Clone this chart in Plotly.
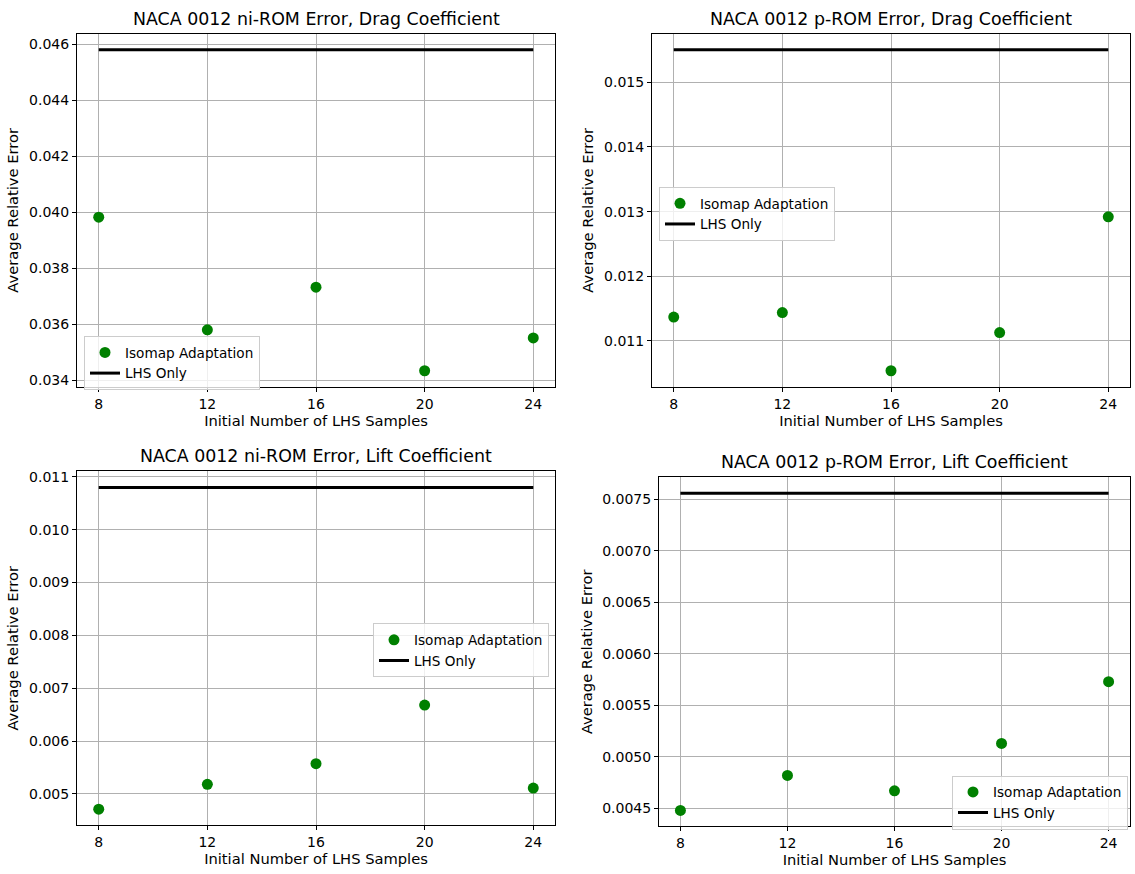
import plotly.graph_objects as go

# Initial number of LHS samples
samples = [8, 12, 16, 20, 24]

# Isomap-adapted ROM average relative errors
iso_ni_drag = [0.03983, 0.03581, 0.03733, 0.03435, 0.03552]
iso_p_drag = [0.01137, 0.01144, 0.01054, 0.01113, 0.01292]
iso_ni_lift = [0.00471, 0.00518, 0.00557, 0.00668, 0.00511]
iso_p_lift = [0.00448, 0.00482, 0.00467, 0.00513, 0.00573]

# LHS-only baseline errors
lhs_ni_drag = 0.04580
lhs_p_drag = 0.01550
lhs_ni_lift = 0.01080
lhs_p_lift = 0.00756

titles = [
    "NACA 0012 ni-ROM Error, Drag Coefficient",
    "NACA 0012 p-ROM Error, Drag Coefficient",
    "NACA 0012 ni-ROM Error, Lift Coefficient",
    "NACA 0012 p-ROM Error, Lift Coefficient",
]

W, H = 1135, 874
FONT = "DejaVu Sans"


def px_x(a, b):
    return [a / W, b / W]


def px_y(top, bottom):
    return [1 - bottom / H, 1 - top / H]


panels = [
    dict(iso=iso_ni_drag, lhs=lhs_ni_drag, xd=px_x(77, 555), yd=px_y(31, 386),
         dtick=0.002, fmt=".3f", leg=(84, 335)),
    dict(iso=iso_p_drag, lhs=lhs_p_drag, xd=px_x(652, 1130), yd=px_y(31, 386),
         dtick=0.001, fmt=".3f", leg=(659, 185)),
    dict(iso=iso_ni_lift, lhs=lhs_ni_lift, xd=px_x(77, 555), yd=px_y(471, 827),
         dtick=0.001, fmt=".3f", leg=(373, 624)),
    dict(iso=iso_p_lift, lhs=lhs_p_lift, xd=px_x(659, 1130), yd=px_y(477, 828),
         dtick=0.0005, fmt=".4f", leg=(952, 777)),
]

fig = go.Figure()
layout = dict(
    width=W, height=H,
    margin=dict(l=0, r=0, t=0, b=0),
    paper_bgcolor="white", plot_bgcolor="white",
    font=dict(family=FONT, size=14, color="black"),
    annotations=[],
)

for i, p in enumerate(panels):
    n = "" if i == 0 else str(i + 1)
    xa, ya = "x" + n, "y" + n
    leg = "legend" + n
    lhs_line = [p["lhs"]] * len(samples)

    fig.add_trace(go.Scatter(
        x=samples, y=p["iso"], mode="markers", name="Isomap Adaptation",
        marker=dict(color="#008000", size=11, line=dict(width=0)),
        xaxis=xa, yaxis=ya, legend=leg,
    ))
    fig.add_trace(go.Scatter(
        x=samples, y=lhs_line, mode="lines", name="LHS Only",
        line=dict(color="black", width=3),
        xaxis=xa, yaxis=ya, legend=leg,
    ))

    lo = min(min(p["iso"]), p["lhs"])
    hi = max(max(p["iso"]), p["lhs"])
    pad = 0.05 * (hi - lo)

    axis_common = dict(
        showline=True, linecolor="black", linewidth=1, mirror=True,
        showgrid=True, gridcolor="#b0b0b0", gridwidth=1,
        ticks="outside", ticklen=4, tickcolor="black", tickwidth=1,
        tickfont=dict(family=FONT, size=14, color="black"),
        zeroline=False,
    )
    layout["xaxis" + n] = dict(
        axis_common, domain=p["xd"], anchor=ya, range=[7.2, 24.8],
        tickvals=samples, ticktext=[str(s) for s in samples],
        title=dict(text="Initial Number of LHS Samples",
                   font=dict(family=FONT, size=14.7), standoff=4),
    )
    layout["yaxis" + n] = dict(
        axis_common, domain=p["yd"], anchor=xa, range=[lo - pad, hi + pad],
        dtick=p["dtick"], tick0=0, tickformat=p["fmt"],
        title=dict(text="Average Relative Error",
                   font=dict(family=FONT, size=14.7), standoff=6),
    )
    layout[leg] = dict(
        x=p["leg"][0] / W, y=1 - p["leg"][1] / H,
        xanchor="left", yanchor="top",
        bgcolor="rgba(255,255,255,0.8)", bordercolor="#cccccc", borderwidth=1,
        font=dict(family=FONT, size=13.6, color="black"),
        itemwidth=30, tracegroupgap=0,
    )
    layout["annotations"].append(dict(
        text=titles[i], showarrow=False,
        x=(p["xd"][0] + p["xd"][1]) / 2, xref="paper", xanchor="center",
        y=p["yd"][1], yref="paper", yanchor="bottom", yshift=3,
        font=dict(family=FONT, size=17.4, color="black"),
    ))

fig.update_layout(**layout)
fig.write_html("out.html")
